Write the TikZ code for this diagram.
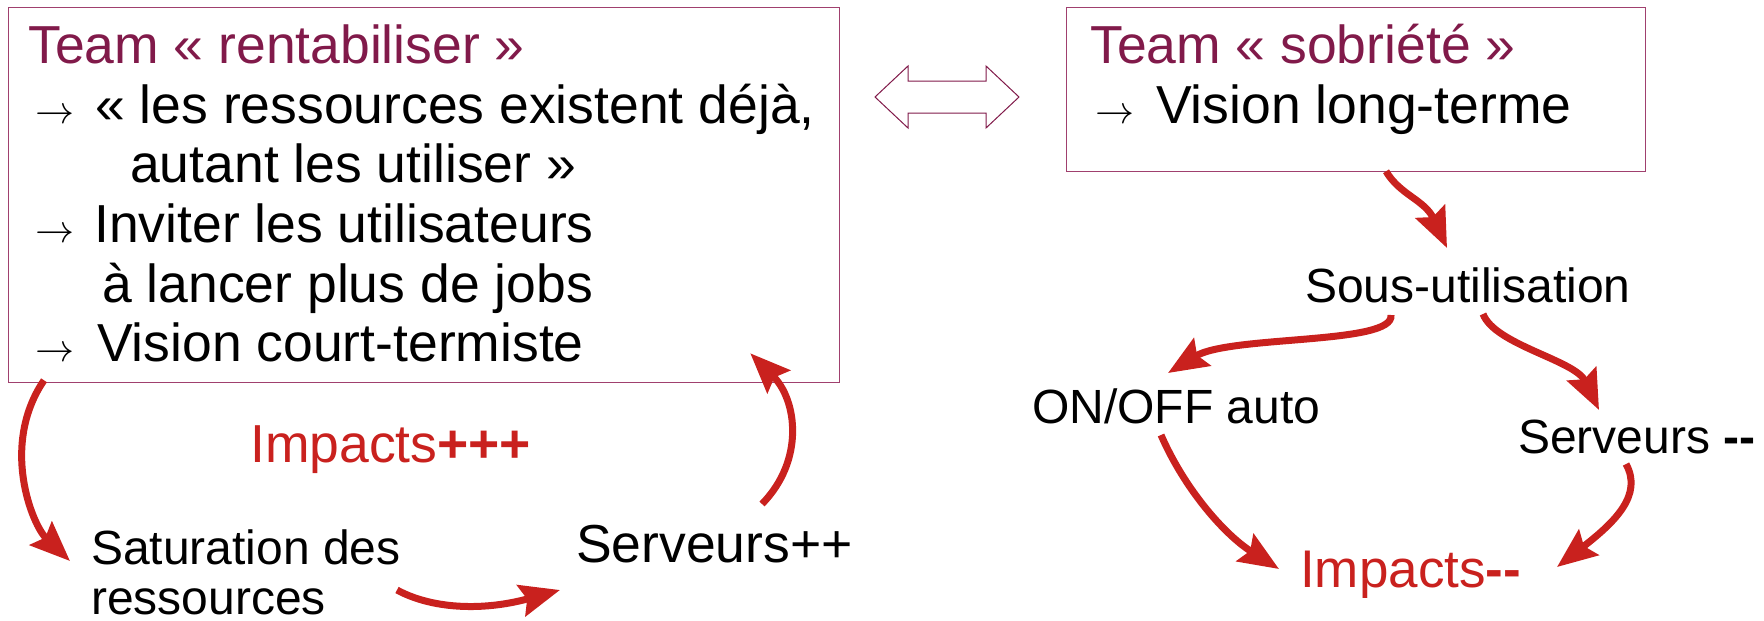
\documentclass[tikz,border=0pt]{standalone}
\usepackage{graphicx}
\usepackage{fontspec}
\setmainfont{Liberation Sans}[Ligatures=TeXOff]
\usetikzlibrary{arrows.meta,calc}
\definecolor{maroon}{HTML}{811A4A}
\definecolor{boxline}{HTML}{A0406E}
\definecolor{arrred}{HTML}{C9211E}
\newcommand{\bularrow}{\scalebox{3.9}{$\rightarrow$}}
\tikzset{
  box/.style={draw=boxline, line width=1.3pt, inner sep=0pt, anchor=north west},
  txt/.style={inner sep=0pt, anchor=base west},
  big/.style={txt, font=\fontsize{53.5}{60}\selectfont},
  mid/.style={txt, font=\fontsize{48}{55}\selectfont},
  bul/.style={txt},
  flow/.style={draw=arrred, line width=7pt, -{Stealth[length=40pt,width=32pt,inset=6pt]}},
  dbl/.style={draw=maroon, line width=1pt, fill=white},
}
\begin{document}
\begin{tikzpicture}[x=1pt,y=-1pt]
\useasboundingbox (0,0) rectangle (1764,621);
% boxes
\node[box, minimum width=831pt, minimum height=375pt] (lbox) at (8,7) {};
\node[box, minimum width=579pt, minimum height=164pt] (rbox) at (1066,7) {};
% left box text
\node[big, text=maroon] (lt1) at (28,63) {Team « rentabiliser »};
\node[bul] (lb1) at (35,123) {\bularrow};
\node[big] (lt2) at (95,123) {« les ressources existent déjà,};
\node[big] (lt3) at (130,182) {autant les utiliser »};
\node[bul] (lb2) at (35,242) {\bularrow};
\node[big] (lt4) at (94,242) {Inviter les utilisateurs};
\node[big] (lt5) at (102,302) {à lancer plus de jobs};
\node[bul] (lb3) at (35,361) {\bularrow};
\node[big] (lt6) at (97,361) {Vision court-termiste};
% right box text
\node[big, text=maroon] (rt1) at (1090,63) {Team « sobriété »};
\node[bul] (rb1) at (1095,123) {\bularrow};
\node[big] (rt2) at (1156,123) {Vision long-terme};
% double arrow
\draw[dbl] (875,97) -- (908,66) -- (908,81) -- (986,81) -- (986,66) -- (1019,97)
  -- (986,128) -- (986,113) -- (908,113) -- (908,128) -- cycle;
% lower left
\node[big, text=arrred] (impp) at (250,462) {Impacts{\bfseries +++}};
\node[mid] (sat1) at (91,564) {Saturation des};
\node[mid] (sat2) at (91,614) {ressources};
\node[big] (srvpp) at (576,562) {Serveurs++};
% lower right
\node[mid] (sous) at (1305,302) {Sous-utilisation};
\node[mid] (onoff) at (1032,423) {ON/OFF auto};
\node[mid] (srvmm) at (1518,453) {Serveurs {\bfseries -{}-}};
\node[txt, font=\fontsize{53}{60}\selectfont, text=arrred] (impm) at (1300,587) {Impacts{\bfseries -{}-}};
% connectors
\draw[flow] ($(lbox.south west)+(36,-3)$) .. controls (0,445) and (32,525) .. ($(sat1.base west)+(-21,-3)$);
\draw[flow] ($(sat2.base west)+(306,-24)$) .. controls (430,608) and (480,612) .. ($(srvpp.base west)+(-16,28)$);
\draw[flow] ($(srvpp.base west)+(186,-58)$) .. controls (805,460) and (797,400) .. ($(lbox.south east)+(-90,-30)$);
\draw[flow] ($(rbox.south west)+(320,-1)$) .. controls (1400,195) and (1425,200) .. ($(sous.base west)+(142,-54)$);
\draw[flow] ($(sous.base west)+(86,13)$) .. controls (1395,345) and (1230,335) .. ($(onoff.base west)+(136,-50)$);
\draw[flow] ($(sous.base west)+(178,12)$) .. controls (1495,345) and (1575,360) .. ($(srvmm.base west)+(81,-43)$);
\draw[flow] ($(onoff.base west)+(129,12)$) .. controls (1185,490) and (1225,535) .. ($(impm.base west)+(-21,-18)$);
\draw[flow] ($(srvmm.base west)+(108,11)$) .. controls (1643,495) and (1615,522) .. ($(impm.base west)+(257,-20)$);
\end{tikzpicture}
\end{document}
